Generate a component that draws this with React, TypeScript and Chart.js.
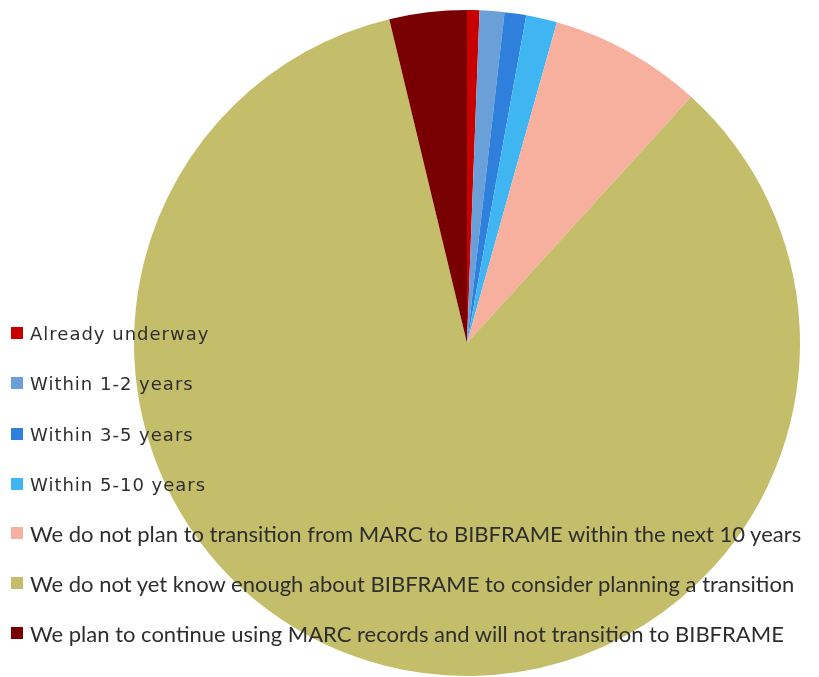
import React, { useEffect, useRef } from "react";
import { Chart, registerables } from "chart.js";

Chart.register(...registerables);

const labels = [
  "Already underway",
  "Within 1-2 years",
  "Within 3-5 years",
  "Within 5-10 years",
  "We do not plan to transition from MARC to BIBFRAME within the next 10 years",
  "We do not yet know enough about BIBFRAME to consider planning a transition",
  "We plan to continue using MARC records and will not transition to BIBFRAME",
];
const values = [0.6, 1.2, 1.05, 1.5, 7.4, 84.5, 3.75];
const colors = ["#c80000", "#6a9fd8", "#2f7fdc", "#3fb6f2", "#f7b09e", "#c4be6b", "#780000"];

const legendTops = [333, 383, 434, 484, 533, 583, 633];
const legendFonts = [
  { family: "'DejaVu Sans', Verdana, sans-serif", size: 18, spacing: 1.0 },
  { family: "'DejaVu Sans', Verdana, sans-serif", size: 18, spacing: 1.0 },
  { family: "'DejaVu Sans', Verdana, sans-serif", size: 18, spacing: 1.0 },
  { family: "'DejaVu Sans', Verdana, sans-serif", size: 18, spacing: 1.0 },
  { family: "Lato, sans-serif", size: 22, spacing: 0 },
  { family: "Lato, sans-serif", size: 22, spacing: 0 },
  { family: "Lato, sans-serif", size: 22, spacing: 0 },
];

export default function App() {
  const ref = useRef<HTMLCanvasElement | null>(null);
  useEffect(() => {
    if (!ref.current) return;
    const chart = new Chart(ref.current, {
      type: "pie",
      data: {
        labels,
        datasets: [{ data: values, backgroundColor: colors, borderWidth: 0 }],
      },
      options: {
        animation: false,
        responsive: false,
        maintainAspectRatio: false,
        layout: { padding: { left: 134, right: 19, top: 10, bottom: 1 } },
        plugins: { legend: { display: false }, tooltip: { enabled: false } },
      },
    });
    return () => chart.destroy();
  }, []);
  return (
    <div style={{ position: "fixed", left: 0, top: 0, width: 819, height: 677, background: "#fff", overflow: "hidden" }}>
      <canvas ref={ref} width={819} height={677} style={{ position: "absolute", left: 0, top: 0 }} />
      {labels.map((l, i) => (
        <div
          key={l}
          style={{
            position: "absolute",
            left: 11,
            top: legendTops[i] - 14,
            height: 28,
            display: "flex",
            alignItems: "center",
            whiteSpace: "nowrap",
          }}
        >
          <span style={{ width: 12, height: 12, background: colors[i], display: "inline-block", marginRight: 7, flex: "none" }} />
          <span
            style={{
              fontFamily: legendFonts[i].family,
              fontSize: legendFonts[i].size,
              letterSpacing: legendFonts[i].spacing,
              color: "#2e2e2e",
            }}
          >
            {l}
          </span>
        </div>
      ))}
    </div>
  );
}
